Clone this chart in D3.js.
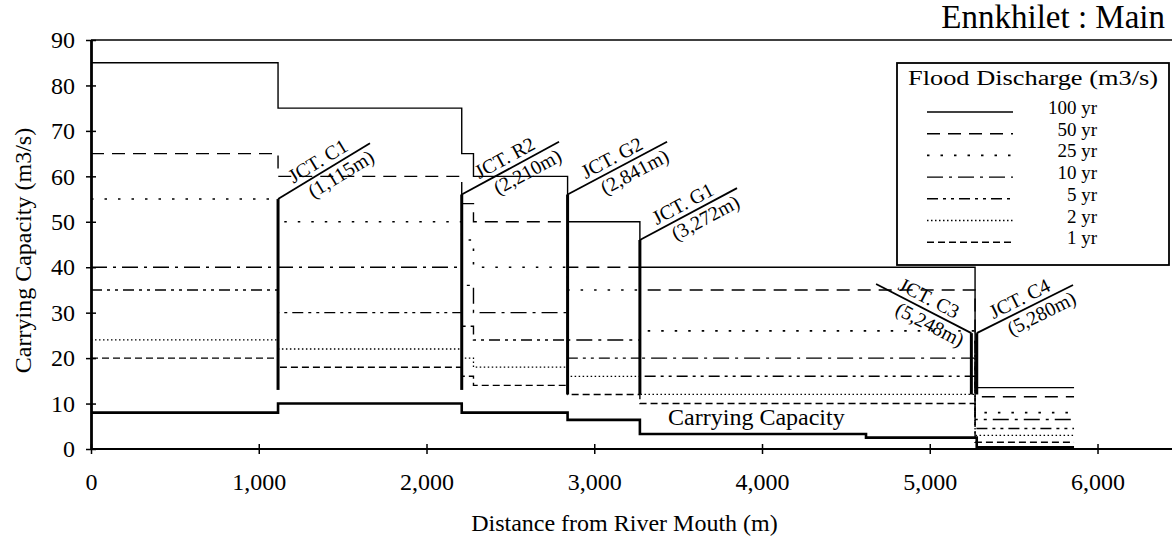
<!DOCTYPE html>
<html>
<head>
<meta charset="utf-8">
<script src="https://cdn.jsdelivr.net/npm/d3@7"></script>
<style>
body { margin: 0; background: #fff; }
text { font-family: "Liberation Serif", "Times New Roman", serif; fill: #000; }
</style>
</head>
<body>
<div id="chart-area"></div>
<script>
// step data, one value per reach between breaks
var floodBreaks = [0, 1115, 2210, 2280, 2841, 3272, 5270, 5860];
var q100 = [85, 75, 65, 60, 50, 40, 13.5];
var q50  = [65, 60, 54, 50, 40, 35, 11.5];
var q25  = [55, 50, 46, 40, 35, 26, 8];
var q10  = [40, 40, 36, 30, 24, 20, 6.5];
var q5   = [35, 30, 27, 24, 20, 16, 4.5];
var q2   = [24, 22, 20, 18, 16, 12, 3];
var q1   = [20, 18, 16, 14, 12, 10, 1.5];

var capBreaks = [0, 1115, 2210, 2841, 3272, 4620, 5280, 5860];
var capacity  = [8, 10, 8, 6.4, 3.3, 2.5, 0.4];

var periods = ["100 yr", "50 yr", "25 yr", "10 yr", "5 yr", "2 yr", "1 yr"];

// junctions
var jctNames  = ["JCT. C1", "JCT. R2", "JCT. G2", "JCT. G1", "JCT. C3", "JCT. C4"];
var jctLabels = ["(1,115m)", "(2,210m)", "(2,841m)", "(3,272m)", "(5,248m)", "(5,280m)"];
var jctDist   = [1115, 2210, 2841, 3272, 5248, 5280];
var jctTop    = [55, 56, 56, 46, 25.5, 25.5];
var jctBottom = [13, 13, 12, 12, 12, 12];
var jctEndX   = [1663, 2790, 3434, 3851, 4680, 5854];
var jctEndY   = [67.3, 67.6, 67.6, 57.4, 36.3, 36.1];

var xTicks = [0, 1000, 2000, 3000, 4000, 5000, 6000];
var yTicks = [0, 10, 20, 30, 40, 50, 60, 70, 80, 90];

var series = [
	{name: periods[0], values: q100, dash: null, w: 1.4},
	{name: periods[1], values: q50, dash: "13,8", w: 1.4},
	{name: periods[2], values: q25, dash: "2.5,11", w: 1.6},
	{name: periods[3], values: q10, dash: "16,6,3,6", w: 1.4},
	{name: periods[4], values: q5, dash: "11,5,3,5,3,5", w: 1.4},
	{name: periods[5], values: q2, dash: "1.5,2.5", w: 1.3},
	{name: periods[6], values: q1, dash: "7,4", w: 1.4}
];

var margin = {top: 40, right: 3, bottom: 90, left: 91};
var width = 1175 - margin.left - margin.right,
	height = 539 - margin.top - margin.bottom;

var svg = d3.select("#chart-area")
	.append("svg")
		.attr("width", 1175)
		.attr("height", 539);

var g = svg.append("g")
	.attr("transform", "translate(" + margin.left + ", " + margin.top + ")");

var x = d3.scaleLinear().domain([0, 6444]).range([0, width]);
var y = d3.scaleLinear().domain([0, 90]).range([height, 0]);

function steps(breaks, values) {
	var pts = values.map(function(v, i) { return [breaks[i], v]; });
	pts.push([breaks[breaks.length - 1], values[values.length - 1]]);
	return pts;
}

var line = d3.line()
	.x(function(d) { return x(d[0]); })
	.y(function(d) { return y(d[1]); })
	.curve(d3.curveStepAfter);

// top border
g.append("line")
	.attr("x1", 0).attr("x2", width)
	.attr("y1", y(90)).attr("y2", y(90))
	.attr("stroke", "#000").attr("stroke-width", 1.6);

// flood lines
g.selectAll(".flood")
	.data(series)
	.enter()
	.append("path")
		.attr("class", "flood")
		.attr("fill", "none")
		.attr("stroke", "#000")
		.attr("stroke-width", function(d) { return d.w; })
		.attr("stroke-dasharray", function(d) { return d.dash; })
		.attr("d", function(d) { return line(steps(floodBreaks, d.values)); });

// carrying capacity
g.append("path")
	.attr("fill", "none")
	.attr("stroke", "#000")
	.attr("stroke-width", 2.6)
	.attr("d", line(steps(capBreaks, capacity)));

g.append("text")
	.attr("x", x(3440))
	.attr("y", y(5.2))
	.attr("font-size", "24px")
	.text("Carrying Capacity");

// junction markers
var jct = g.selectAll(".jct")
	.data(jctDist)
	.enter()
	.append("g")
		.attr("class", "jct");

jct.append("line")
	.attr("x1", function(d) { return x(d); })
	.attr("x2", function(d) { return x(d); })
	.attr("y1", function(d, i) { return y(jctTop[i]); })
	.attr("y2", function(d, i) { return y(jctBottom[i]); })
	.attr("stroke", "#000")
	.attr("stroke-width", 3);

jct.append("line")
	.attr("x1", function(d) { return x(d); })
	.attr("y1", function(d, i) { return y(jctTop[i]); })
	.attr("x2", function(d, i) { return x(jctEndX[i]); })
	.attr("y2", function(d, i) { return y(jctEndY[i]); })
	.attr("stroke", "#000")
	.attr("stroke-width", 1.8);

jct.each(function(d, i) {
	var x0 = x(d), y0 = y(jctTop[i]), x1 = x(jctEndX[i]), y1 = y(jctEndY[i]);
	// always read left to right
	if (x1 < x0) { var t = x0; x0 = x1; x1 = t; t = y0; y0 = y1; y1 = t; }
	var len = Math.sqrt((x1 - x0) * (x1 - x0) + (y1 - y0) * (y1 - y0));
	var ang = Math.atan2(y1 - y0, x1 - x0) * 180 / Math.PI;
	var lab = d3.select(this).append("g")
		.attr("transform", "translate(" + x0 + "," + y0 + ") rotate(" + ang + ")");
	lab.append("text")
		.attr("x", len * 0.5).attr("y", -5)
		.attr("text-anchor", "middle")
		.attr("font-size", "20px")
		.text(jctNames[i]);
	lab.append("text")
		.attr("x", len * 0.62).attr("y", 18)
		.attr("text-anchor", "middle")
		.attr("font-size", "20px")
		.text(jctLabels[i]);
});

// axes
var xAxis = g.append("g")
	.attr("transform", "translate(0, " + height + ")")
	.call(d3.axisBottom(x).tickValues(xTicks).tickSizeInner(5).tickSizeOuter(0)
		.tickFormat(d3.format(",")));
xAxis.select(".domain").attr("stroke-width", 2.2);
xAxis.selectAll(".tick line").attr("y1", -5).attr("stroke-width", 1.5);
xAxis.selectAll(".tick text")
	.attr("y", 41).attr("dy", null)
	.attr("font-size", "24px")
	.attr("font-family", "Liberation Serif");

var yAxis = g.append("g")
	.call(d3.axisLeft(y).tickValues(yTicks).tickSizeInner(5).tickSizeOuter(0));
yAxis.select(".domain").attr("stroke-width", 2.8);
yAxis.selectAll(".tick line").attr("x1", 5).attr("stroke-width", 1.5);
yAxis.selectAll(".tick text")
	.attr("x", -16)
	.attr("font-size", "24px")
	.attr("font-family", "Liberation Serif");

// the axis line runs past the plot on the right
xAxis.select(".domain").attr("d", "M0,0H" + width);

svg.append("text")
	.attr("transform", "translate(31," + (margin.top + y(45) + 6) + ") rotate(-90)")
	.attr("text-anchor", "middle")
	.attr("font-size", "24px")
	.text("Carrying Capacity (m3/s)");

svg.append("text")
	.attr("x", margin.left + x(3180))
	.attr("y", 531)
	.attr("text-anchor", "middle")
	.attr("font-size", "24px")
	.text("Distance from River Mouth (m)");

svg.append("text")
	.attr("x", 1165)
	.attr("y", 28)
	.attr("text-anchor", "end")
	.attr("font-size", "33px")
	.text("Ennkhilet : Main");

// legend
var legend = svg.append("g")
	.attr("transform", "translate(897, 63)");

legend.append("rect")
	.attr("width", 272)
	.attr("height", 202)
	.attr("fill", "#fff")
	.attr("stroke", "#000")
	.attr("stroke-width", 1.8);

legend.append("text")
	.attr("x", 136)
	.attr("y", 22)
	.attr("text-anchor", "middle")
	.attr("font-size", "20px")
	.attr("textLength", 250)
	.attr("lengthAdjust", "spacingAndGlyphs")
	.text("Flood Discharge (m3/s)");

var rows = legend.selectAll(".row")
	.data(series)
	.enter()
	.append("g")
		.attr("class", "row")
		.attr("transform", function(d, i) { return "translate(0," + (45 + i * 21.7) + ")"; });

rows.append("line")
	.attr("x1", 30).attr("x2", 116)
	.attr("y1", 4).attr("y2", 4)
	.attr("stroke", "#000")
	.attr("stroke-width", function(d) { return d.w; })
	.attr("stroke-dasharray", function(d) { return d.dash; });

rows.append("text")
	.attr("x", 200)
	.attr("y", 6)
	.attr("text-anchor", "end")
	.attr("font-size", "19px")
	.text(function(d) { return d.name; });
</script>
</body>
</html>
